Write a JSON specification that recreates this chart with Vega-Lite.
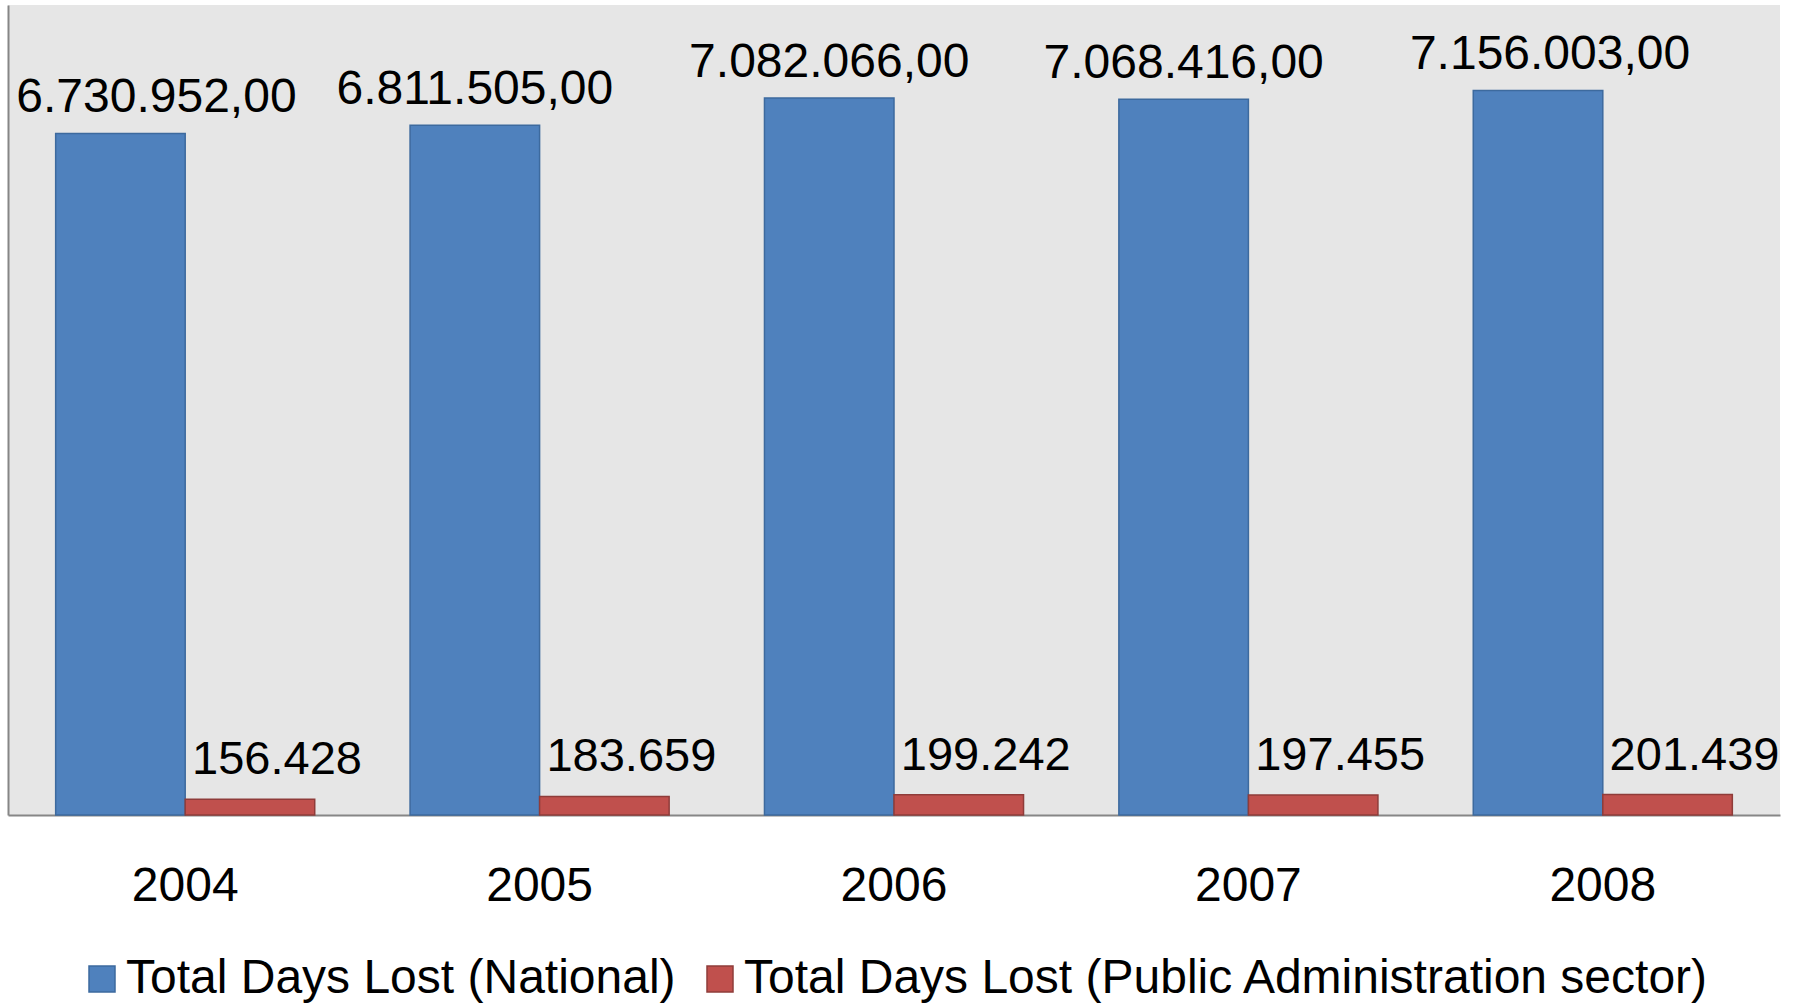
{
  "$schema": "https://vega.github.io/schema/vega-lite/v6.json",
  "width": 1772,
  "height": 810,
  "padding": {"left": 8, "top": 5, "right": 17, "bottom": 0},
  "autosize": {"type": "pad"},
  "background": "white",
  "config": {
    "view": {"fill": "#e6e6e6", "stroke": null},
    "font": "Liberation Sans",
    "locale": {"number": {"decimal": ",", "thousands": ".", "grouping": [3], "currency": ["", ""]}},
    "legend": {"layout": {"bottom": {"anchor": "middle"}}}
  },
  "data": {
    "values": [
      {"year": "2004", "series": "Total Days Lost (National)", "value": 6730952},
      {"year": "2004", "series": "Total Days Lost (Public Administration sector)", "value": 156428},
      {"year": "2005", "series": "Total Days Lost (National)", "value": 6811505},
      {"year": "2005", "series": "Total Days Lost (Public Administration sector)", "value": 183659},
      {"year": "2006", "series": "Total Days Lost (National)", "value": 7082066},
      {"year": "2006", "series": "Total Days Lost (Public Administration sector)", "value": 199242},
      {"year": "2007", "series": "Total Days Lost (National)", "value": 7068416},
      {"year": "2007", "series": "Total Days Lost (Public Administration sector)", "value": 197455},
      {"year": "2008", "series": "Total Days Lost (National)", "value": 7156003},
      {"year": "2008", "series": "Total Days Lost (Public Administration sector)", "value": 201439}
    ]
  },
  "encoding": {
    "x": {
      "field": "year", "type": "nominal",
      "scale": {"paddingInner": 0.269, "paddingOuter": 0.1345},
      "axis": {
        "title": null, "labelAngle": 0, "labelFontSize": 48, "labelColor": "black",
        "labelPadding": 47, "ticks": false, "domainColor": "#868686", "domainWidth": 2
      }
    },
    "xOffset": {"field": "series", "type": "nominal", "scale": {"paddingInner": 0, "paddingOuter": 0}},
    "y": {
      "field": "value", "type": "quantitative",
      "scale": {"domain": [0, 8000000], "nice": false},
      "axis": {"title": null, "labels": false, "ticks": false, "grid": false, "domainColor": "#868686", "domainWidth": 2}
    }
  },
  "layer": [
    {
      "mark": {"type": "bar", "strokeWidth": 1.5},
      "encoding": {
        "color": {
          "field": "series", "type": "nominal",
          "scale": {"range": ["#4f81bd", "#c0504d"]},
          "legend": {
            "title": null, "orient": "bottom", "direction": "horizontal",
            "symbolType": "square", "symbolSize": 676, "symbolStrokeWidth": 1.5,
            "labelFontSize": 48, "labelColor": "black", "labelOffset": 0,
            "columnPadding": 20, "offset": 45, "labelLimit": 1200
          }
        },
        "stroke": {
          "field": "series", "type": "nominal",
          "scale": {"range": ["#3d6a9e", "#8f3c3a"]}
        }
      }
    },
    {
      "transform": [{"filter": "datum.series == 'Total Days Lost (National)' && datum.year != '2004' && datum.year != '2008'"}],
      "mark": {"type": "text", "fontSize": 48, "baseline": "alphabetic", "dy": -21, "color": "black"},
      "encoding": {"text": {"field": "value", "type": "quantitative", "format": ",.2f"}}
    },
    {
      "transform": [{"filter": "datum.series == 'Total Days Lost (National)' && datum.year == '2004'"}],
      "mark": {"type": "text", "fontSize": 48, "baseline": "alphabetic", "dy": -21, "dx": 36, "color": "black"},
      "encoding": {"text": {"field": "value", "type": "quantitative", "format": ",.2f"}}
    },
    {
      "transform": [{"filter": "datum.series == 'Total Days Lost (National)' && datum.year == '2008'"}],
      "mark": {"type": "text", "fontSize": 48, "baseline": "alphabetic", "dy": -21, "dx": 12, "color": "black"},
      "encoding": {"text": {"field": "value", "type": "quantitative", "format": ",.2f"}}
    },
    {
      "transform": [{"filter": "datum.series != 'Total Days Lost (National)'"}],
      "mark": {"type": "text", "fontSize": 47, "baseline": "alphabetic", "dy": -25, "dx": 27, "color": "black"},
      "encoding": {"text": {"field": "value", "type": "quantitative", "format": ","}}
    }
  ]
}
